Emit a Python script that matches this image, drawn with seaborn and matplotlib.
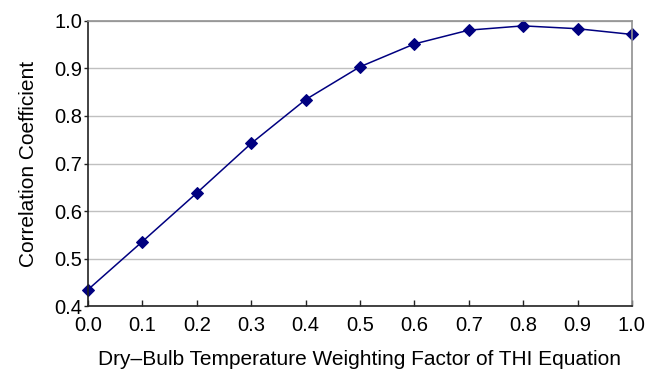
import matplotlib
matplotlib.use("Agg")
import matplotlib.pyplot as plt
import seaborn as sns
import pandas as pd

# weighting factor vs correlation coefficient
weight = [0.0, 0.1, 0.2, 0.3, 0.4, 0.5, 0.6, 0.7, 0.8, 0.9, 1.0]
corr = [0.435, 0.536, 0.638, 0.742, 0.834, 0.903, 0.951, 0.980, 0.989, 0.983, 0.971]
df = pd.DataFrame({"w": weight, "r": corr})

sns.set_style("white")
plt.rcParams["font.family"] = ["Liberation Sans", "DejaVu Sans"]

fig = plt.figure(figsize=(6.61, 3.75), dpi=100)
ax = fig.add_axes([0.133, 0.183, 0.823, 0.762])

sns.lineplot(data=df, x="w", y="r", ax=ax, color="#000080", lw=1.1,
             marker="D", markersize=6, markeredgecolor="#000080", clip_on=False)

ax.set_xlim(0, 1)
ax.set_ylim(0.4, 1.0)
ax.set_xticks(weight)
ax.set_xticklabels([f"{v:.1f}" for v in weight])
ax.set_yticks([0.4, 0.5, 0.6, 0.7, 0.8, 0.9, 1.0])
ax.set_yticklabels(["0.4", "0.5", "0.6", "0.7", "0.8", "0.9", "1.0"])
ax.yaxis.grid(True, color="#c0c0c0", lw=1)
ax.set_axisbelow(True)

for s in ["left", "bottom"]:
    ax.spines[s].set_color("#222222")
    ax.spines[s].set_linewidth(1.2)
for s in ["top", "right"]:
    ax.spines[s].set_color("#909090")
    ax.spines[s].set_linewidth(1.2)

ax.tick_params(axis="x", direction="in", length=4, width=1, color="#222222",
               labelsize=14.5, labelcolor="black", pad=7, bottom=True)
ax.tick_params(axis="y", direction="out", length=3, width=1, color="#222222",
               labelsize=14.5, labelcolor="black", pad=1, left=True)

ax.set_xlabel("Dry\u2013Bulb Temperature Weighting Factor of THI Equation",
              fontsize=15, color="black", labelpad=11)
ax.set_ylabel("Correlation Coefficient", fontsize=15, color="black", labelpad=12)

fig.savefig("out.png", dpi=100)
